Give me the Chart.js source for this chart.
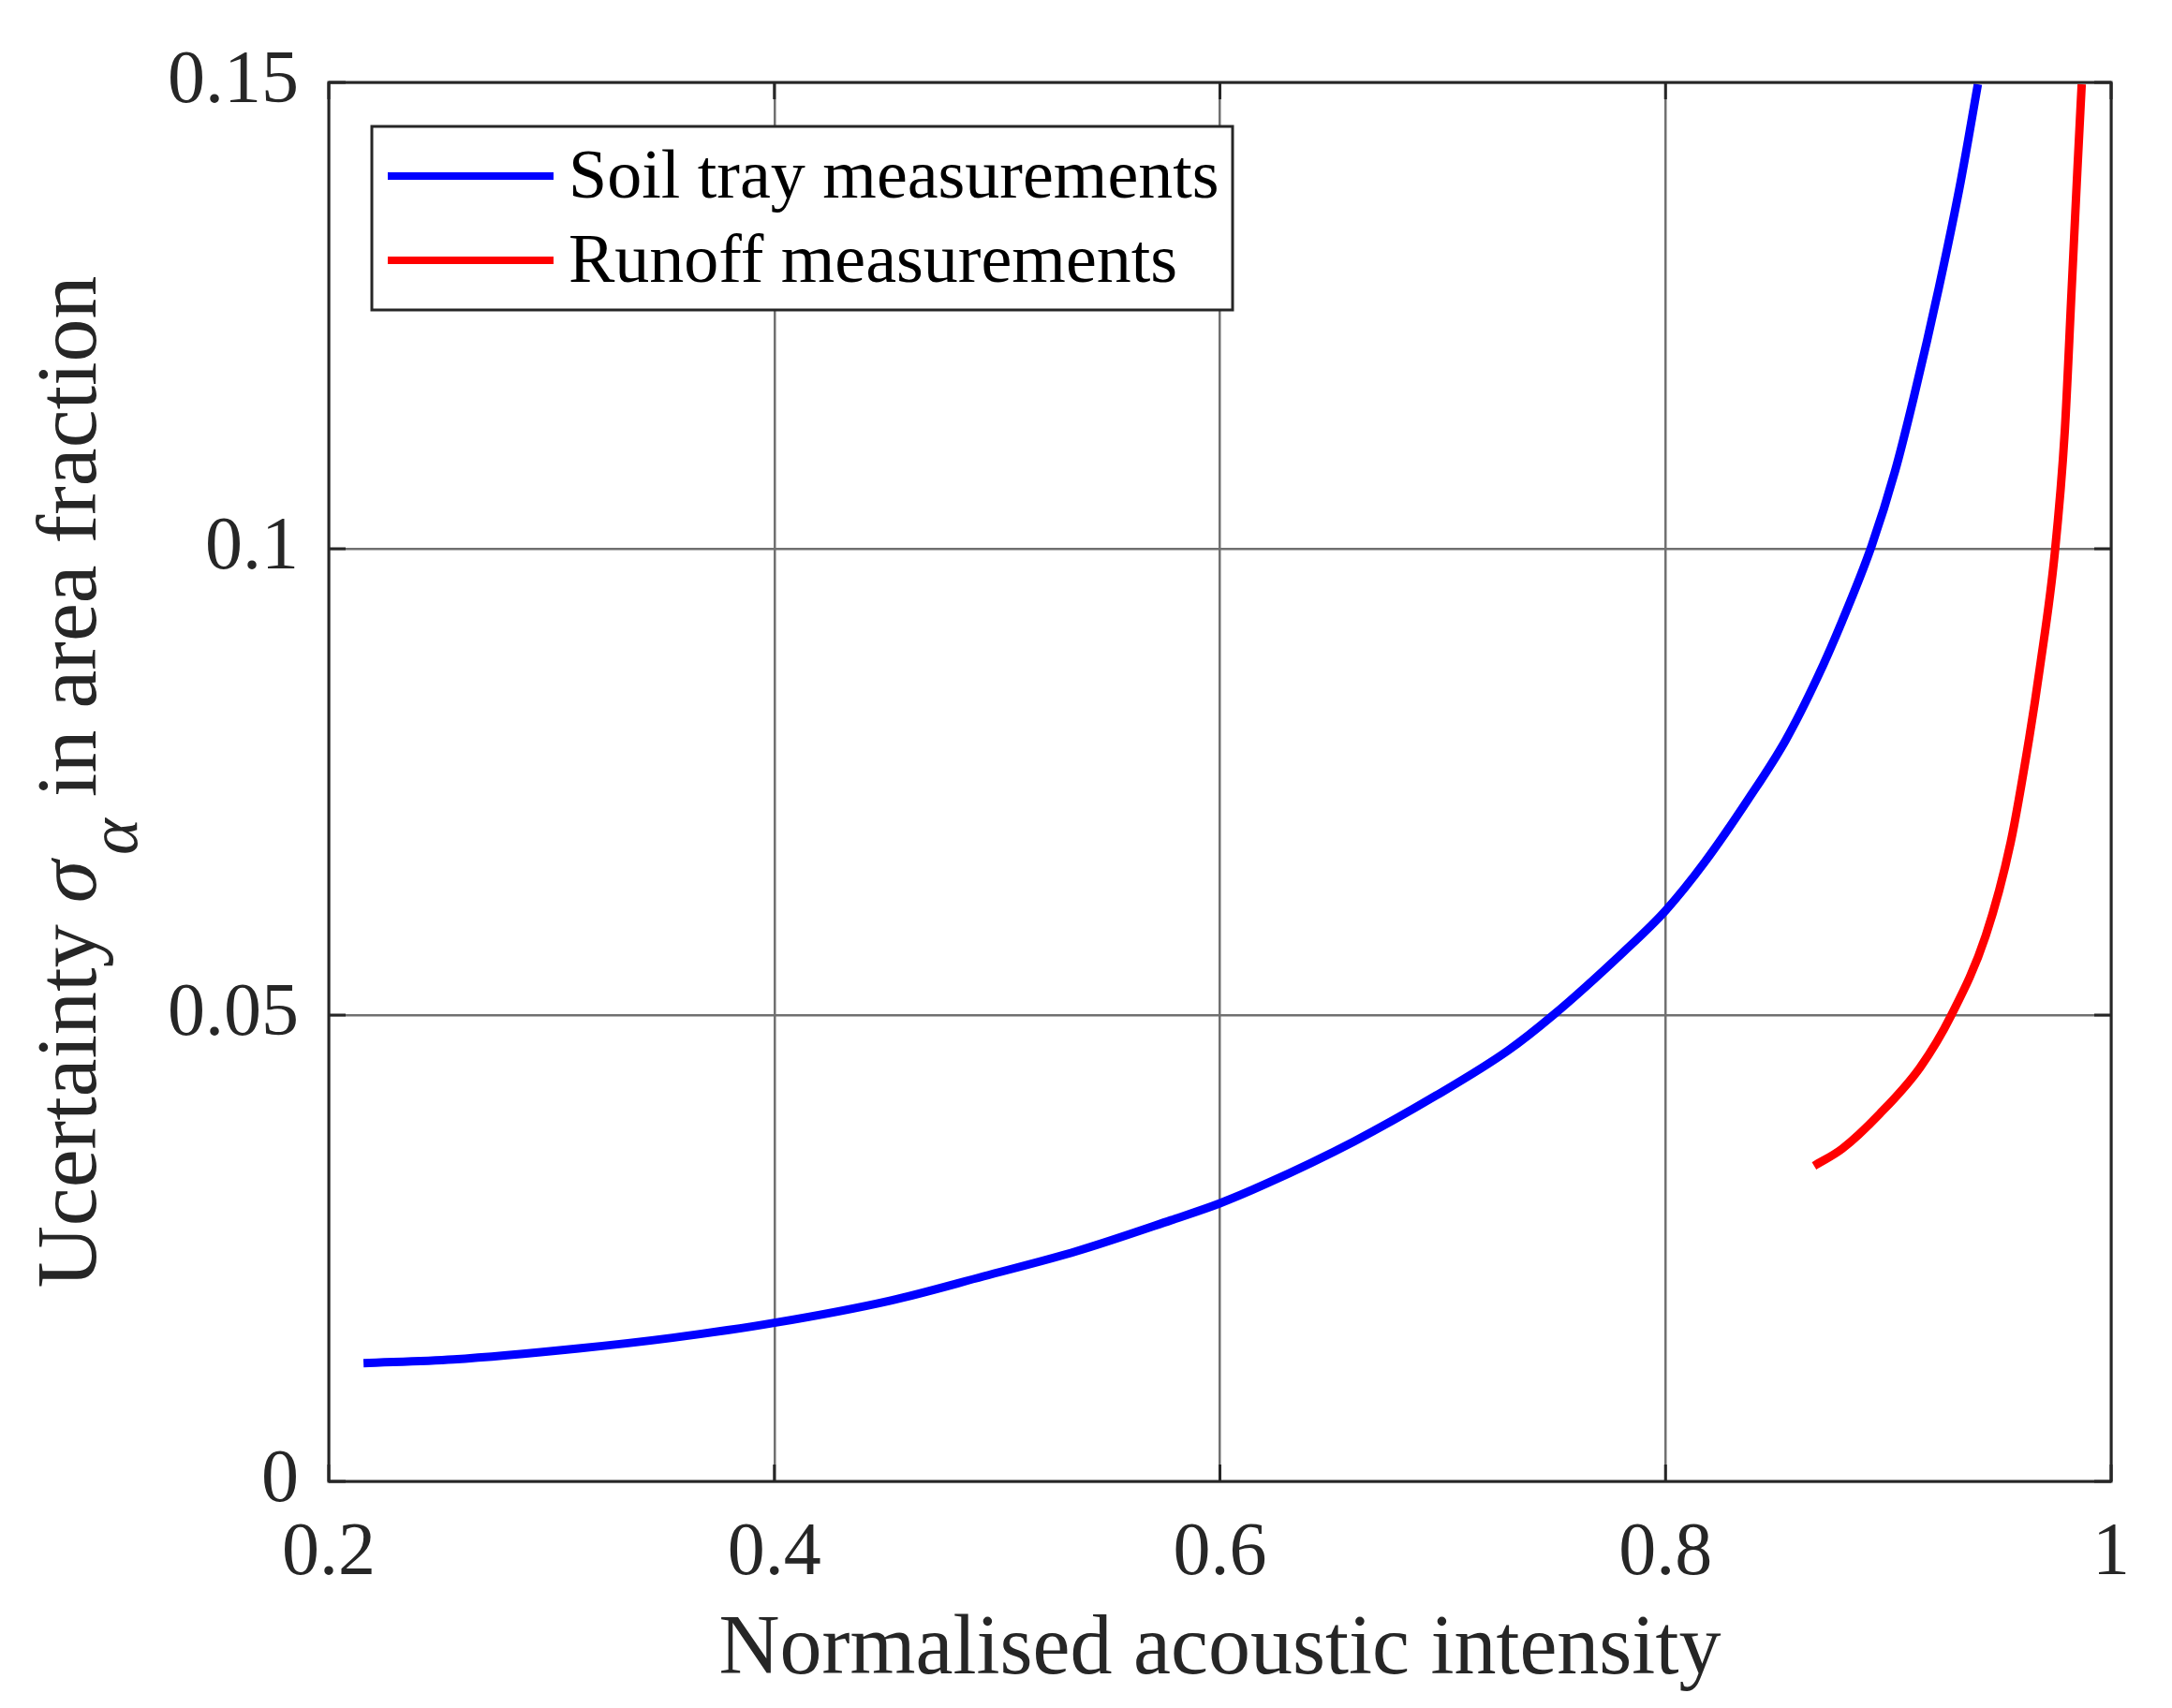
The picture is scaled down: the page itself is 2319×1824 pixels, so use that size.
<!DOCTYPE html>
<html>
<head>
<meta charset="utf-8">
<script src="https://cdn.jsdelivr.net/npm/chart.js@4.4.1/dist/chart.umd.min.js"></script>
<style>
  html, body { margin: 0; padding: 0; background: #ffffff; }
  #wrap { width: 2319px; height: 1824px; }
</style>
</head>
<body>
<div id="wrap"><canvas id="c" width="2319" height="1824"></canvas></div>
<script>
// ---- data ----
const seriesLabels = ['Soil tray measurements', 'Runoff measurements'];

const soilX = [0.2156, 0.2559, 0.3122, 0.3543, 0.4000, 0.4518, 0.4939, 0.5359, 0.5780, 0.6000,
               0.6200, 0.6600, 0.6970, 0.7293, 0.7496, 0.7811, 0.8000, 0.8176, 0.8372, 0.8540,
               0.8680, 0.8792, 0.8925, 0.9030, 0.9115, 0.9227, 0.9325, 0.9402];
const soilY = [0.01268, 0.01308, 0.01426, 0.01540, 0.01700, 0.01937, 0.02199, 0.02470, 0.02800, 0.02982,
               0.03183, 0.03643, 0.04137, 0.04620, 0.05000, 0.05676, 0.06120, 0.06640, 0.07316, 0.07950,
               0.08610, 0.09220, 0.10030, 0.10830, 0.11630, 0.12800, 0.13940, 0.14980];

const runoffX = [0.8667, 0.8793, 0.8961, 0.9143, 0.9283, 0.9437, 0.9549, 0.9633,
                 0.9680, 0.9747, 0.9792, 0.9822, 0.9849, 0.9868];
const runoffY = [0.03383, 0.03567, 0.03940, 0.04440, 0.05000, 0.05850, 0.06850, 0.07980,
                 0.08720, 0.09950, 0.11260, 0.12740, 0.14080, 0.14980];

const xTicks = [0.2, 0.4, 0.6, 0.8, 1];
const yTicks = [0, 0.05, 0.1, 0.15];
const xTitle = 'Normalised acoustic intensity';
const yTitleParts = ['Ucertainty ', 'σ', 'α', ' in area fraction'];

// ---- styling ----
const INK = '#262626';
const SERIF = '"Liberation Serif", "Times New Roman", serif';

function toPoints(xs, ys) { return xs.map((x, i) => ({ x: x, y: ys[i] })); }
function fmt(v) { return String(Number(v.toFixed(2))); }

const framePlugin = {
  id: 'frame',
  afterDatasetsDraw(chart) {
    const ctx = chart.ctx;
    const a = chart.chartArea;
    const xs = chart.scales.x, ys = chart.scales.y;
    ctx.save();
    ctx.strokeStyle = INK;
    ctx.lineWidth = 3;
    ctx.strokeRect(a.left, a.top, a.right - a.left, a.bottom - a.top);
    const tl = 18;
    ctx.beginPath();
    xTicks.forEach(v => {
      const px = xs.getPixelForValue(v);
      ctx.moveTo(px, a.bottom); ctx.lineTo(px, a.bottom - tl);
      ctx.moveTo(px, a.top); ctx.lineTo(px, a.top + tl);
    });
    yTicks.forEach(v => {
      const py = ys.getPixelForValue(v);
      ctx.moveTo(a.left, py); ctx.lineTo(a.left + tl, py);
      ctx.moveTo(a.right, py); ctx.lineTo(a.right - tl, py);
    });
    ctx.stroke();
    ctx.restore();
  },
  afterDraw(chart) {
    const ctx = chart.ctx;
    const a = chart.chartArea;
    // legend box
    const bx = a.left + 46, by = a.top + 47, bw = 919, bh = 196;
    ctx.save();
    ctx.fillStyle = '#ffffff';
    ctx.fillRect(bx, by, bw, bh);
    ctx.strokeStyle = INK;
    ctx.lineWidth = 3;
    ctx.strokeRect(bx, by, bw, bh);
    ctx.font = '74px ' + SERIF;
    ctx.textBaseline = 'middle';
    ctx.textAlign = 'left';
    chart.data.datasets.forEach((ds, i) => {
      const yy = by + 53 + i * 90;
      ctx.strokeStyle = ds.borderColor;
      ctx.lineWidth = 8;
      ctx.beginPath();
      ctx.moveTo(bx + 17, yy); ctx.lineTo(bx + 194, yy);
      ctx.stroke();
      ctx.fillStyle = '#000000';
      ctx.fillText(ds.label, bx + 210, yy + 4);
    });
    ctx.restore();

    // y axis title with subscript
    ctx.save();
    const cy = (a.top + a.bottom) / 2;
    const baseX = 102;
    const fMain = '92px ' + SERIF;
    const fIt = 'italic 92px ' + SERIF;
    const fSub = 'italic 74px ' + SERIF;
    const segs = [
      { t: yTitleParts[0], f: fMain, dy: 0, gap: 0 },
      { t: yTitleParts[1], f: fIt, dy: 0, gap: 6 },
      { t: yTitleParts[2], f: fSub, dy: 44, gap: 0 },
      { t: yTitleParts[3], f: fMain, dy: 0, gap: 0 }
    ];
    let total = 0;
    segs.forEach(s => { ctx.font = s.f; s.w = ctx.measureText(s.t).width; total += s.w + s.gap; });
    ctx.translate(baseX, cy);
    ctx.rotate(-Math.PI / 2);
    ctx.fillStyle = INK;
    ctx.textBaseline = 'alphabetic';
    ctx.textAlign = 'left';
    let x = -total / 2;
    segs.forEach(s => { ctx.font = s.f; ctx.fillText(s.t, x, s.dy); x += s.w + s.gap; });
    ctx.restore();
  }
};

new Chart(document.getElementById('c'), {
  type: 'scatter',
  data: {
    datasets: [
      { label: seriesLabels[0], data: toPoints(soilX, soilY), showLine: true,
        borderColor: '#0000ff', backgroundColor: '#0000ff', borderWidth: 9,
        pointRadius: 0, cubicInterpolationMode: 'monotone', borderCapStyle: 'butt' },
      { label: seriesLabels[1], data: toPoints(runoffX, runoffY), showLine: true,
        borderColor: '#ff0000', backgroundColor: '#ff0000', borderWidth: 9,
        pointRadius: 0, cubicInterpolationMode: 'monotone', borderCapStyle: 'butt' }
    ]
  },
  options: {
    responsive: false,
    devicePixelRatio: 1,
    animation: false,
    layout: { padding: { left: 0, top: 88, right: 65, bottom: 0 } },
    plugins: { legend: { display: false }, tooltip: { enabled: false } },
    scales: {
      x: {
        type: 'linear', min: 0.2, max: 1,
        afterBuildTicks(scale) { scale.ticks = xTicks.map(v => ({ value: v })); },
        afterFit(scale) { scale.height = 242; },
        ticks: { color: INK, font: { family: SERIF, size: 80 }, padding: 30,
                 maxRotation: 0, callback: v => fmt(v) },
        grid: { color: '#707070', lineWidth: 2.5, drawTicks: false },
        border: { display: false },
        title: { display: true, text: xTitle, color: INK,
                 font: { family: SERIF, size: 90 }, padding: { top: 0, bottom: 7 } }
      },
      y: {
        type: 'linear', min: 0, max: 0.15,
        afterBuildTicks(scale) { scale.ticks = yTicks.map(v => ({ value: v })); },
        afterFit(scale) { scale.width = 351; },
        ticks: { color: INK, font: { family: SERIF, size: 80 }, padding: 32,
                 callback: v => fmt(v) },
        grid: { color: '#707070', lineWidth: 2.5, drawTicks: false },
        border: { display: false },
        title: { display: false }
      }
    }
  },
  plugins: [framePlugin]
});
</script>
</body>
</html>
